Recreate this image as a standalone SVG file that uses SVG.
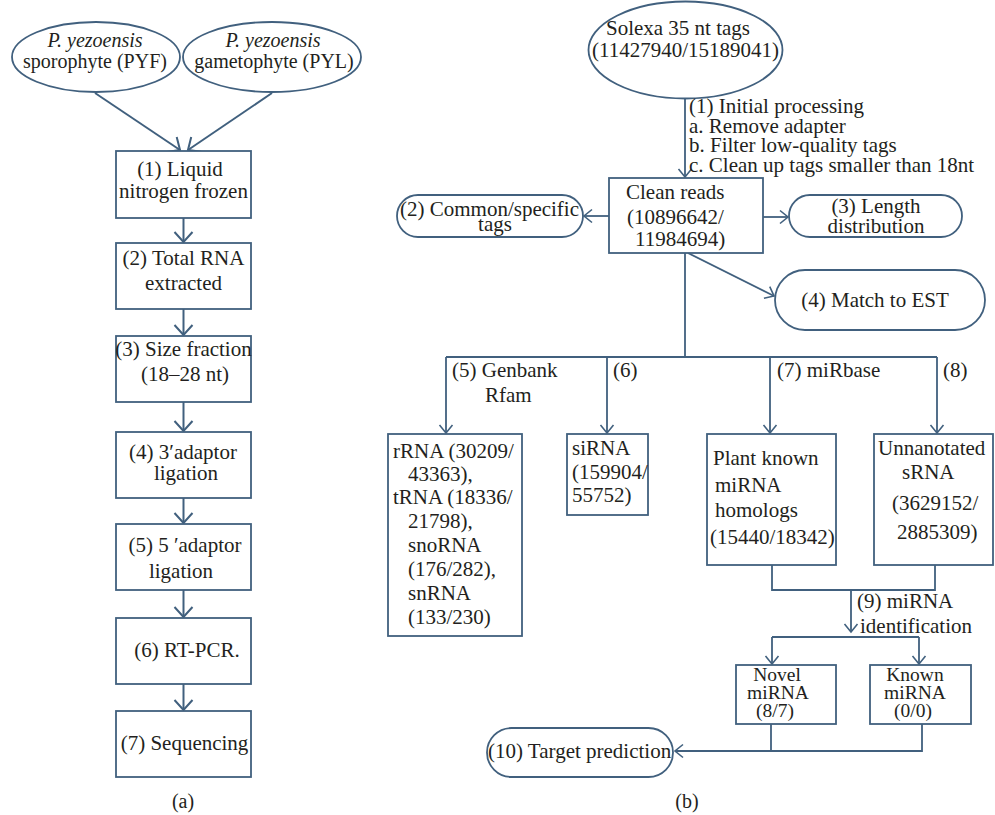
<svg xmlns="http://www.w3.org/2000/svg" width="995" height="815" viewBox="0 0 995 815">
<defs>
<style>
.n{fill:#fff;stroke:#41607e;stroke-width:1.8}
.c{fill:none;stroke:#41607e;stroke-width:1.8}
.cl{fill:none;stroke:#41607e;stroke-width:2}
.t{font-family:'Liberation Serif','DejaVu Serif','Noto Serif',serif;font-size:21px;fill:#231f20}
.m{text-anchor:middle}
.s20{font-size:20px}
.s19{font-size:19.5px}
.it{font-style:italic}
</style>
<marker id="aL" markerUnits="userSpaceOnUse" markerWidth="14" markerHeight="22" refX="11" refY="10" orient="auto" overflow="visible"><path d="M1,1 L11,10 L1,19" fill="none" stroke="#41607e" stroke-width="2"/></marker>
<marker id="aR" markerUnits="userSpaceOnUse" markerWidth="12" markerHeight="16" refX="9" refY="7" orient="auto" overflow="visible"><path d="M1,0.5 L9,7 L1,13.5" fill="none" stroke="#41607e" stroke-width="1.6"/></marker>
</defs>
<rect width="995" height="815" fill="#fff"/>

<g id="connectors">
<line class="cl" x1="95" y1="93" x2="180" y2="150" marker-end="url(#aL)"/>
<line class="cl" x1="272" y1="93" x2="188" y2="150" marker-end="url(#aL)"/>
<line class="cl" x1="183.5" y1="218" x2="183.5" y2="242" marker-end="url(#aL)"/>
<line class="cl" x1="183.5" y1="309" x2="183.5" y2="335" marker-end="url(#aL)"/>
<line class="cl" x1="183.5" y1="402" x2="183.5" y2="431" marker-end="url(#aL)"/>
<line class="cl" x1="183.5" y1="498" x2="183.5" y2="523" marker-end="url(#aL)"/>
<line class="cl" x1="183.5" y1="590" x2="183.5" y2="617" marker-end="url(#aL)"/>
<line class="cl" x1="183.5" y1="684" x2="183.5" y2="710" marker-end="url(#aL)"/>

<line class="c" x1="685" y1="99" x2="685" y2="177" marker-end="url(#aR)"/>
<line class="c" x1="609" y1="216" x2="584" y2="216" marker-end="url(#aR)"/>
<line class="c" x1="763" y1="217" x2="788" y2="217" marker-end="url(#aR)"/>
<line class="c" x1="688" y1="253" x2="774" y2="296" marker-end="url(#aR)"/>
<polyline class="c" points="685,253 685,357"/>
<polyline class="c" points="446,357 937,357"/>
<line class="c" x1="446" y1="357" x2="446" y2="433" marker-end="url(#aR)"/>
<line class="c" x1="607" y1="357" x2="607" y2="433" marker-end="url(#aR)"/>
<line class="c" x1="770" y1="357" x2="770" y2="433" marker-end="url(#aR)"/>
<line class="c" x1="937" y1="357" x2="937" y2="433" marker-end="url(#aR)"/>
<polyline class="c" points="772,565 772,590 935,590 935,565"/>
<line class="c" x1="851" y1="590" x2="851" y2="632" marker-end="url(#aR)"/>
<polyline class="c" points="772,637 919,637"/>
<line class="c" x1="772" y1="637" x2="772" y2="664" marker-end="url(#aR)"/>
<line class="c" x1="919" y1="637" x2="919" y2="664" marker-end="url(#aR)"/>
<polyline class="c" points="771,724 771,751"/>
<polyline class="c" points="922,724 922,751 675,751" marker-end="url(#aR)"/>
</g>

<g id="e1" class="t">
<ellipse class="n" cx="96" cy="57" rx="84" ry="35"/>
<text class="t m s20 it" x="95" y="47">P. yezoensis</text>
<text class="t m s20" x="95" y="68">sporophyte (PYF)</text>
</g>
<g id="e2">
<ellipse class="n" cx="272" cy="57" rx="89" ry="35"/>
<text class="t m s20 it" x="273" y="47">P. yezoensis</text>
<text class="t m s20" x="274" y="68">gametophyte (PYL)</text>
</g>
<g id="a1">
<rect class="n" x="116" y="151" width="135" height="67"/>
<text class="t m" x="180" y="176">(1) Liquid</text>
<text class="t m" x="183.5" y="198">nitrogen frozen</text>
</g>
<g id="a2">
<rect class="n" x="116" y="243" width="135" height="66"/>
<text class="t m" x="183.5" y="265">(2) Total RNA</text>
<text class="t m" x="183.5" y="290">extracted</text>
</g>
<g id="a3">
<rect class="n" x="116" y="336" width="135" height="66"/>
<text class="t m" x="183.5" y="356">(3) Size fraction</text>
<text class="t m" x="185" y="381">(18–28 nt)</text>
</g>
<g id="a4">
<rect class="n" x="116" y="432" width="135" height="66"/>
<text class="t m" x="183" y="459">(4) 3′adaptor</text>
<text class="t m" x="186" y="480">ligation</text>
</g>
<g id="a5">
<rect class="n" x="116" y="524" width="135" height="66"/>
<text class="t m" x="185" y="552">(5) 5 ′adaptor</text>
<text class="t m" x="181" y="578">ligation</text>
</g>
<g id="a6">
<rect class="n" x="116" y="618" width="135" height="66"/>
<text class="t m" x="187" y="657">(6) RT-PCR.</text>
</g>
<g id="a7">
<rect class="n" x="116" y="711" width="135" height="66"/>
<text class="t m" x="184.5" y="750">(7) Sequencing</text>
</g>
<text class="t m s20" x="183" y="808">(a)</text>

<g id="solexa">
<ellipse class="n" cx="685.5" cy="50" rx="97" ry="48.5"/>
<text class="t m" x="678" y="35">Solexa 35 nt tags</text>
<text class="t m" x="685.5" y="57">(11427940/15189041)</text>
</g>
<g id="proc-label">
<text class="t" x="689" y="113">(1) Initial processing</text>
<text class="t" x="689" y="133">a. Remove adapter</text>
<text class="t" x="689" y="152">b. Filter low-quality tags</text>
<text class="t" x="689" y="172">c. Clean up tags smaller than 18nt</text>
</g>
<g id="clean">
<rect class="n" x="609" y="178" width="154" height="75"/>
<text class="t" x="626" y="199">Clean reads</text>
<text class="t" x="627" y="224">(10896642/</text>
<text class="t" x="635" y="246">11984694)</text>
</g>
<g id="common">
<rect class="n" x="397" y="195" width="186" height="42" rx="21"/>
<text class="t m" x="489.5" y="216">(2) Common/specific</text>
<text class="t m" x="495" y="231">tags</text>
</g>
<g id="length">
<rect class="n" x="789" y="195" width="173" height="42" rx="21"/>
<text class="t m" x="876" y="213">(3) Length</text>
<text class="t m" x="876" y="233">distribution</text>
</g>
<g id="est">
<rect class="n" x="775" y="270" width="210" height="60" rx="30"/>
<text class="t m" x="875" y="307">(4) Match to EST</text>
</g>
<g id="branch-labels">
<text class="t" x="452" y="377">(5) Genbank</text>
<text class="t" x="485" y="402">Rfam</text>
<text class="t" x="613" y="377">(6)</text>
<text class="t" x="777" y="377">(7) miRbase</text>
<text class="t" x="943" y="377">(8)</text>
<text class="t" x="857" y="608">(9) miRNA</text>
<text class="t" x="860" y="633">identification</text>
</g>
<g id="rrna">
<rect class="n" x="388" y="434" width="134" height="202"/>
<text class="t" x="393" y="458">rRNA (30209/</text>
<text class="t" x="408" y="481">43363),</text>
<text class="t" x="393" y="504">tRNA (18336/</text>
<text class="t" x="408" y="528">21798),</text>
<text class="t" x="408" y="552">snoRNA</text>
<text class="t" x="408" y="576">(176/282),</text>
<text class="t" x="408" y="600">snRNA</text>
<text class="t" x="408" y="624">(133/230)</text>
</g>
<g id="sirna">
<rect class="n" x="567" y="434" width="81" height="81"/>
<text class="t" x="572" y="455">siRNA</text>
<text class="t" x="572" y="479">(159904/</text>
<text class="t" x="572" y="502">55752)</text>
</g>
<g id="plant">
<rect class="n" x="707" y="434" width="129" height="131"/>
<text class="t" x="713" y="465">Plant known</text>
<text class="t" x="715" y="492">miRNA</text>
<text class="t" x="715" y="517">homologs</text>
<text class="t" x="710" y="544">(15440/18342)</text>
</g>
<g id="unann">
<rect class="n" x="874" y="434" width="119" height="131"/>
<text class="t" x="878" y="455">Unnanotated</text>
<text class="t" x="902" y="479">sRNA</text>
<text class="t" x="892" y="510">(3629152/</text>
<text class="t" x="897" y="539">2885309)</text>
</g>
<g id="novel">
<rect class="n" x="736" y="665" width="100" height="59"/>
<text class="t m s19" x="777" y="681">Novel</text>
<text class="t m s19" x="778" y="699">miRNA</text>
<text class="t m s19" x="775" y="717">(8/7)</text>
</g>
<g id="known">
<rect class="n" x="870" y="665" width="101" height="59"/>
<text class="t m s19" x="915" y="681">Known</text>
<text class="t m s19" x="915" y="699">miRNA</text>
<text class="t m s19" x="913" y="717">(0/0)</text>
</g>
<g id="target">
<rect class="n" x="487" y="728" width="186" height="49" rx="24.5"/>
<text class="t" x="488" y="758">(10) Target prediction</text>
</g>
<text class="t m s20" x="687" y="808">(b)</text>
</svg>
